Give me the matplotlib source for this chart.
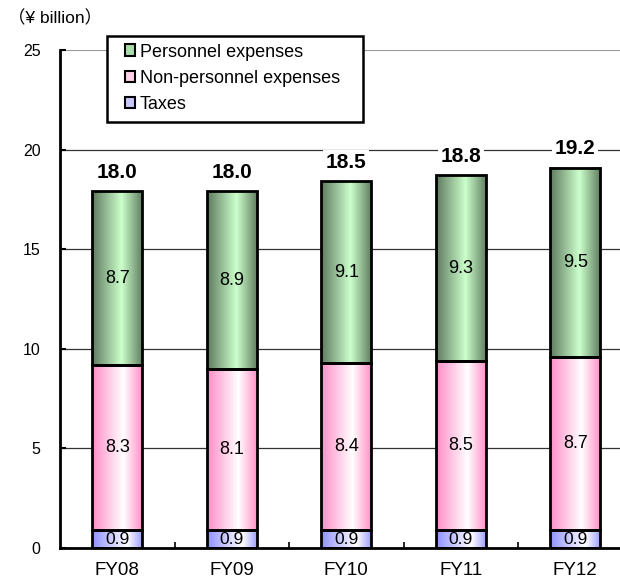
import numpy as np
import matplotlib
matplotlib.use("Agg")
import matplotlib.pyplot as plt
from matplotlib.colors import LinearSegmentedColormap
from matplotlib.patches import Patch, Rectangle

plt.rcParams['font.family'] = ['Liberation Sans', 'Noto Sans CJK JP', 'DejaVu Sans']

categories = ["FY08", "FY09", "FY10", "FY11", "FY12"]
taxes = [0.9, 0.9, 0.9, 0.9, 0.9]
non_personnel = [8.3, 8.1, 8.4, 8.5, 8.7]
personnel = [8.7, 8.9, 9.1, 9.3, 9.5]
totals = [18.0, 18.0, 18.5, 18.8, 19.2]
series_names = ["Personnel expenses", "Non-personnel expenses", "Taxes"]

cmap_green = LinearSegmentedColormap.from_list("g", [(0, "#5e7a5e"), (0.58, "#ccffcc"), (1, "#5e7a5e")])
cmap_pink = LinearSegmentedColormap.from_list("p", [(0, "#ff8cc6"), (0.62, "#ffffff"), (1, "#ff8cc6")])
cmap_blue = LinearSegmentedColormap.from_list("b", [(0, "#9090ff"), (0.7, "#ffffff"), (1, "#9a9aff")])

fig = plt.figure(figsize=(6.2, 5.79), dpi=100)
ax = fig.add_axes([60/620, 31/579, 560/620, 498/579])

x = np.arange(len(categories))
width = 0.44
grad = np.linspace(0, 1, 256).reshape(1, -1)

bottom = np.zeros(len(categories))
for vals, cmap in [(taxes, cmap_blue), (non_personnel, cmap_pink), (personnel, cmap_green)]:
    bars = ax.bar(x, vals, width, bottom=bottom, facecolor="none", edgecolor="black",
                  linewidth=2, zorder=4)
    for rect, v in zip(bars, vals):
        x0, y0 = rect.get_x(), rect.get_y()
        w, h = rect.get_width(), rect.get_height()
        ax.imshow(grad, cmap=cmap, extent=[x0, x0 + w, y0, y0 + h],
                  aspect="auto", zorder=3, interpolation="bilinear")
        ax.text(x0 + w / 2, y0 + h / 2, f"{v:.1f}", ha="center", va="center",
                fontsize=13 if h > 2 else 12.5, zorder=6)
    bottom = bottom + np.array(vals)

for xi, top, t in zip(x, bottom, totals):
    ax.text(xi, top + 0.95, f"{t:.1f}", ha="center", va="center", fontsize=15,
            fontweight="bold", zorder=6,
            bbox=dict(facecolor="white", edgecolor="none", pad=2))

ax.set_xlim(-0.5, -0.5 + 560 / 114.5)
ax.set_ylim(0, 25)
ax.set_yticks([0, 5, 10, 15, 20, 25])
ax.set_xticks(x)
ax.set_xticklabels(categories, fontsize=13.5)
ax.set_xticks(x[:-1] + 0.5, minor=True)
ax.tick_params(axis="x", which="major", length=0, pad=10)
ax.tick_params(axis="x", which="minor", length=4, direction="in", width=1.2)
ax.tick_params(axis="y", length=4, direction="in", width=1.5, labelsize=11.5, pad=14)

ax.yaxis.grid(True, color="#333333", linewidth=0.9, zorder=0)
ax.set_axisbelow(True)
ygl = ax.get_ygridlines()
ygl[-1].set_color("#999999")
ygl[-1].set_linewidth(1.5)
for s in ["top", "right"]:
    ax.spines[s].set_visible(False)
for s in ["left", "bottom"]:
    ax.spines[s].set_linewidth(2)
    ax.spines[s].set_zorder(5)

# legend frame box
frame = Rectangle((107/620, 1 - 122/579), (363 - 107)/620, (122 - 36)/579,
                  transform=fig.transFigure, facecolor="white", edgecolor="black",
                  linewidth=1.8, zorder=9, clip_on=False)
ax.add_patch(frame)

handles = [Patch(facecolor="#a8dca8", edgecolor="black", linewidth=1.5),
           Patch(facecolor="#ffd0e8", edgecolor="black", linewidth=1.5),
           Patch(facecolor="#c8c8ff", edgecolor="black", linewidth=1.5)]
leg = ax.legend(handles, series_names, loc="upper left",
                bbox_to_anchor=(120/620, 1 - 39/579), bbox_transform=fig.transFigure,
                fontsize=13, frameon=False,
                handlelength=0.6, handleheight=0.6, handletextpad=0.25,
                labelspacing=0.51, borderpad=0.25, borderaxespad=0)
leg.set_zorder(10)

fig.text(8/620, 1 - 18/579, "（¥ billion）", fontsize=12.5, va="center", ha="left")

fig.savefig("out.png", dpi=100)
